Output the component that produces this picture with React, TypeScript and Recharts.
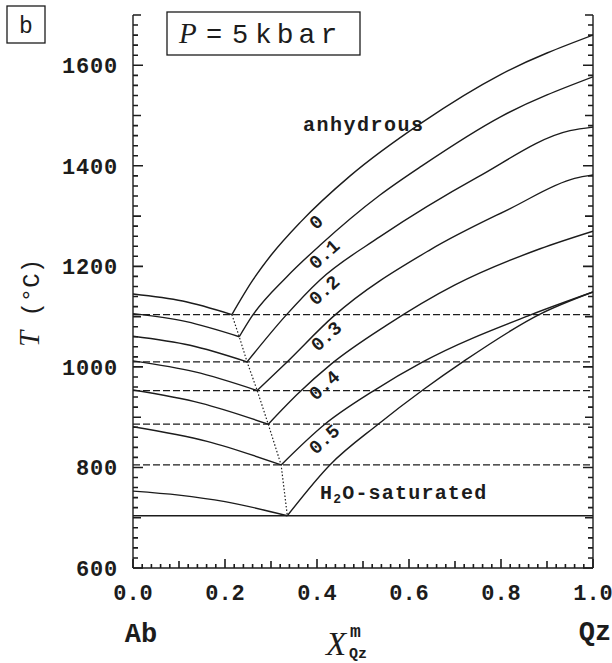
// @ts-nocheck
import React from "react";
import { LineChart, Line, XAxis, YAxis, ReferenceLine } from "recharts";

// liquidus on the Ab side, x = X_Qz, y = T (°C), one per water content
const abSide = [
  [[0, 1145], [0.108, 1131], [0.215, 1104]],
  [[0, 1106], [0.116, 1090], [0.231, 1060]],
  [[0, 1061], [0.124, 1043], [0.248, 1010]],
  [[0, 1012], [0.135, 990], [0.27, 953]],
  [[0, 954], [0.147, 928], [0.294, 886]],
  [[0, 881], [0.161, 852], [0.322, 805]],
  [[0, 753], [0.1, 745], [0.2, 732], [0.3355, 704]],
];

// liquidus on the Qz side
const qzSide = [
  [[0.215, 1104], [0.26, 1172], [0.3, 1222], [0.363, 1287], [0.472, 1380], [0.628, 1486], [0.8, 1582], [1.0, 1660]],
  [[0.231, 1060], [0.258, 1100], [0.334, 1179], [0.4065, 1242], [0.537, 1342], [0.628, 1400], [0.8, 1498], [1.0, 1577]],
  [[0.248, 1010], [0.33, 1100], [0.4065, 1173], [0.537, 1259], [0.75, 1378], [0.95, 1470], [1.0, 1477]],
  [[0.27, 953], [0.335, 1010], [0.435, 1100], [0.646, 1233], [0.82, 1315], [0.96, 1375], [1.0, 1382]],
  [[0.294, 886], [0.36, 948], [0.43, 1005], [0.55, 1082], [0.7, 1163], [0.885, 1235], [1.0, 1270]],
  [[0.322, 805], [0.417, 886], [0.522, 952], [0.63, 1010], [0.863, 1103], [1.0, 1149]],
  [[0.3355, 704], [0.428, 805], [0.533, 886], [0.63, 954], [0.717, 1010], [0.885, 1105], [1.0, 1149]],
];

// eutectic (cotectic) points joined by the dotted line
const eutectics = [[0.215, 1104], [0.231, 1060], [0.248, 1010], [0.27, 953], [0.294, 886], [0.322, 805], [0.3355, 704]];

const dashedLevels = [1104, 1010, 953, 886, 805];
const solidusT = 704;

const curveLabels = ["0", "0.1", "0.2", "0.3", "0.4", "0.5"];
const xMajor = [0, 0.2, 0.4, 0.6, 0.8, 1.0];
const yMajor = [600, 800, 1000, 1200, 1400, 1600];

const xTicks = [];
for (let i = 0; i <= 50; i++) xTicks.push(i / 50);
const yTicks = [];
for (let v = 600; v <= 1700; v += 20) yTicks.push(v);

const pts = (a) => a.map(([x, y]) => ({ x, y }));

const INK = "#1c1c1c";
const MONO = "'Liberation Mono', 'DejaVu Sans Mono', monospace";
const SERIF = "'Liberation Serif', 'DejaVu Serif', serif";

// plot box, set by the chart margins and axis sizes below
const W = 612;
const H = 663;
const M = { top: 15, right: 9, bottom: 65, left: 63 };
const YW = 70;
const YRW = 10;
const XH = 30;
const PL = M.left + YW;
const PR = W - M.right - YRW;
const PT = M.top;
const PB = H - M.bottom - XH;
const sx = (v) => PL + (v * (PR - PL));
const sy = (t) => PB - ((t - 600) / 1100) * (PB - PT);

const xLen = (v) => {
  const k = Math.round(v * 50);
  return k % 10 === 0 ? 9 : k % 5 === 0 ? 7 : 4;
};
const yLen = (v) => {
  const k = Math.round((v - 600) / 20);
  return k % 10 === 0 ? 10 : k % 5 === 0 ? 8 : 5;
};

const renderXTick = (p) => {
  const v = p.payload.value;
  if (!xMajor.some((m) => Math.abs(m - v) < 1e-6)) return <g />;
  return (
    <text x={p.x} y={PB + 32} textAnchor="middle" fontFamily={MONO} fontWeight="bold" fontSize={22} fill={INK}>
      {v.toFixed(1)}
    </text>
  );
};

const renderYTick = (p) => {
  const v = p.payload.value;
  if (!yMajor.includes(v)) return <g />;
  return (
    <text x={PL - 15} y={Number(p.y) + 8} textAnchor="end" fontFamily={MONO} fontWeight="bold" fontSize={22} letterSpacing={0.8} fill={INK}>
      {v}
    </text>
  );
};

const labelPos = [
  [317, 223],
  [325, 255],
  [325, 291],
  [327, 337],
  [325, 386],
  [325, 440],
];

const lineProps = { dataKey: "y", dot: false, activeDot: false, isAnimationActive: false, stroke: INK };
const axisLine = { stroke: INK, strokeWidth: 1.4 };

export default function App() {
  const tickPath =
    xTicks.map((v) => `M${sx(v)},${PB}V${PB - xLen(v)}`).join("") +
    yTicks.map((v) => `M${PL},${sy(v)}H${PL + yLen(v)}`).join("") +
    yTicks.map((v) => `M${PR},${sy(v)}H${PR - yLen(v)}`).join("");

  return (
    <div style={{ position: "absolute", left: 0, top: 0, width: W, height: H, background: "#fff" }}>
      <div style={{ position: "absolute", left: 0, top: 0 }}>
        <LineChart width={W} height={H} margin={M}>
          <XAxis
            type="number"
            dataKey="x"
            domain={[0, 1]}
            ticks={xTicks}
            interval={0}
            tickLine={false}
            tick={renderXTick}
            height={XH}
            axisLine={axisLine}
            allowDataOverflow
          />
          <YAxis
            yAxisId="l"
            type="number"
            domain={[600, 1700]}
            ticks={yTicks}
            interval={0}
            tickLine={false}
            tick={renderYTick}
            width={YW}
            axisLine={axisLine}
            allowDataOverflow
          />
          <YAxis
            yAxisId="r"
            orientation="right"
            type="number"
            domain={[600, 1700]}
            ticks={yTicks}
            interval={0}
            tickLine={false}
            tick={false}
            width={YRW}
            axisLine={axisLine}
            allowDataOverflow
          />
          {dashedLevels.map((t) => (
            <ReferenceLine key={t} yAxisId="l" y={t} stroke={INK} strokeWidth={1.2} strokeDasharray="7 3" />
          ))}
          <Line {...lineProps} yAxisId="r" data={pts([[0, solidusT], [1, solidusT]])} type="linear" strokeWidth={1.4} />
          <Line {...lineProps} yAxisId="l" data={pts(eutectics)} type="linear" strokeWidth={1.2} strokeDasharray="1.5 2" />
          {abSide.map((c, i) => (
            <Line key={"ab" + i} {...lineProps} yAxisId="l" data={pts(c)} type="monotone" strokeWidth={1.4} />
          ))}
          {qzSide.map((c, i) => (
            <Line key={"qz" + i} {...lineProps} yAxisId="l" data={pts(c)} type="monotone" strokeWidth={1.4} />
          ))}
        </LineChart>
      </div>

      <svg width={W} height={H} style={{ position: "absolute", left: 0, top: 0, pointerEvents: "none" }}>
        <path d={tickPath} stroke={INK} strokeWidth={1.6} fill="none" />

        <rect x={7} y={6} width={38} height={37} fill="none" stroke={INK} strokeWidth={1.3} />
        <text x={26} y={33} textAnchor="middle" fontFamily={MONO} fontSize={23} fill={INK}>b</text>

        <rect x={167} y={12} width={193} height={43} fill="none" stroke={INK} strokeWidth={1.3} />
        <text x={179} y={43} fontFamily={SERIF} fontStyle="italic" fontSize={29} fill={INK}>P</text>
        <text x={206} y={43} fontFamily={MONO} fontSize={27} fill={INK}>=</text>
        <text x={232} y={43} fontFamily={MONO} fontSize={27} fill={INK}>5</text>
        <text x={255} y={43} fontFamily={MONO} fontSize={28} letterSpacing={5} fill={INK}>kbar</text>

        <text x={303} y={131} fontFamily={MONO} fontWeight="bold" fontSize={20} letterSpacing={1.5} fill={INK}>anhydrous</text>
        {curveLabels.map((s, i) => (
          <text
            key={s}
            x={labelPos[i][0]}
            y={labelPos[i][1]}
            transform={`rotate(-42 ${labelPos[i][0]} ${labelPos[i][1]})`}
            textAnchor="middle"
            dominantBaseline="central"
            fontFamily={MONO}
            fontWeight="bold"
            fontSize={19}
            fill={INK}
          >
            {s}
          </text>
        ))}
        <text x={320} y={499} fontFamily={MONO} fontWeight="bold" fontSize={20} letterSpacing={1.2} fill={INK}>
          H<tspan fontSize={13} dy={4}>2</tspan>
          <tspan dy={-4}>O-saturated</tspan>
        </text>

        <text transform="rotate(-90 39 303)" x={39} y={303} textAnchor="middle" fill={INK}>
          <tspan fontFamily={SERIF} fontStyle="italic" fontSize={29} fill={INK}>T</tspan>
          <tspan fontFamily={MONO} fontSize={24} fill={INK}> (°C)</tspan>
        </text>

        <text x={141} y={642} textAnchor="middle" fontFamily={MONO} fontWeight="bold" fontSize={27} fill={INK}>Ab</text>
        <text x={595} y={640} textAnchor="middle" fontFamily={MONO} fontWeight="bold" fontSize={27} fill={INK}>Qz</text>
        <text x={326} y={655} fontFamily={SERIF} fontStyle="italic" fontSize={33} fill={INK}>X</text>
        <text x={350} y={637} fontFamily={MONO} fontWeight="bold" fontSize={18} fill={INK}>m</text>
        <text x={349} y={658} fontFamily={MONO} fontWeight="bold" fontSize={15} fill={INK}>Qz</text>
      </svg>
    </div>
  );
}
